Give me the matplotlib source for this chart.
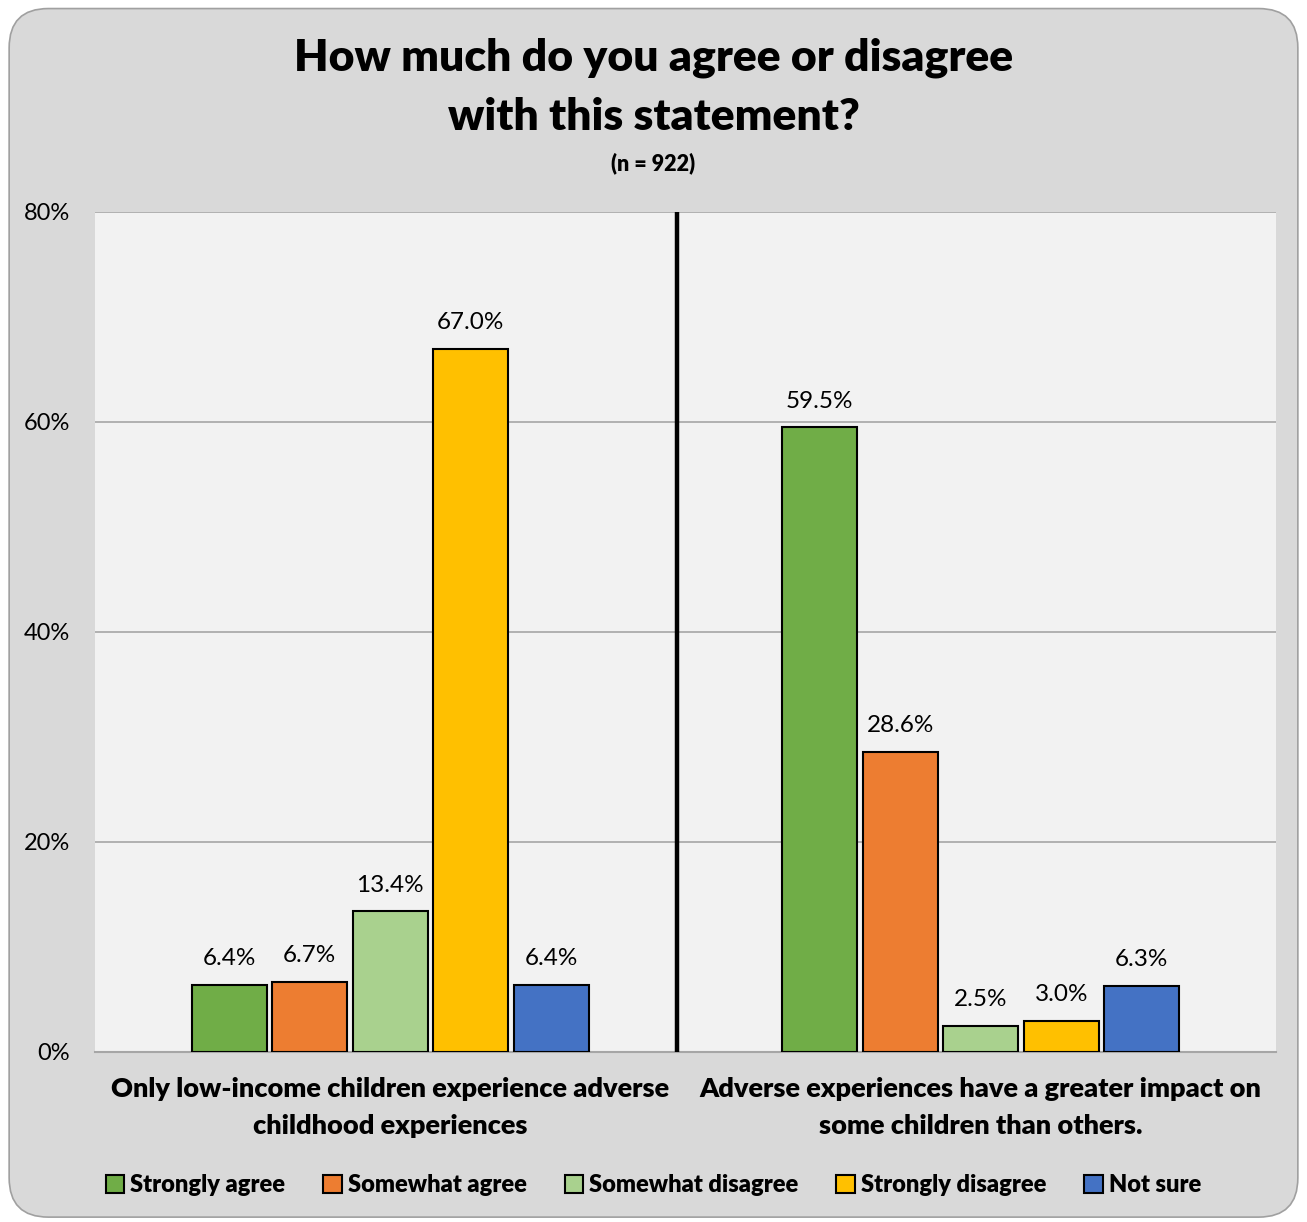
import matplotlib.pyplot as plt
import numpy as np
from matplotlib.patches import FancyBboxPatch, Patch

plt.rcParams['font.family'] = ['Lato', 'DejaVu Sans']

statements = ["Only low-income children experience adverse\nchildhood experiences",
              "Adverse experiences have a greater impact on\nsome children than others."]
responses = ["Strongly agree", "Somewhat agree", "Somewhat disagree",
             "Strongly disagree", "Not sure"]
strongly_agree = [6.4, 59.5]
somewhat_agree = [6.7, 28.6]
somewhat_disagree = [13.4, 2.5]
strongly_disagree = [67.0, 3.0]
not_sure = [6.4, 6.3]
colors = ["#70AD47", "#ED7D31", "#A9D18E", "#FFC000", "#4472C4"]

series = [strongly_agree, somewhat_agree, somewhat_disagree, strongly_disagree, not_sure]

fig = plt.figure(figsize=(13.07, 12.22), dpi=100, facecolor='white')

# rounded grey card behind everything
card = FancyBboxPatch((0.007, 0.004), 0.986, 0.989,
                      boxstyle="round,pad=0,rounding_size=0.03",
                      transform=fig.transFigure, facecolor='#D9D9D9',
                      edgecolor='#A0A0A0', linewidth=1.2, zorder=-10,
                      mutation_aspect=1307 / 1222)
fig.patches.append(card)

ax = fig.add_axes([95 / 1307, 1 - 1052 / 1222, 1181 / 1307, 840 / 1222])
ax.set_facecolor('#F2F2F2')

x = np.arange(len(statements))
width = 0.127
step = 0.1363
for i, (vals, col, name) in enumerate(zip(series, colors, responses)):
    pos = x + (i - 2) * step
    bars = ax.bar(pos, vals, width, color=col, edgecolor='black', linewidth=1.5,
                  label=name, zorder=3)
    for b, v in zip(bars, vals):
        ax.text(b.get_x() + b.get_width() / 2, v + 1.5, f"{v:.1f}%",
                ha='center', va='bottom', fontsize=17.5, color='#000000')

ax.set_xlim(-0.5, 1.5)
ax.set_ylim(0, 80)
ax.set_yticks(range(0, 81, 20))
ax.set_yticklabels([f"{t}%" for t in range(0, 81, 20)], fontsize=17)
ax.yaxis.grid(True, color='#A6A6A6', linewidth=1.2, zorder=0)
ax.set_axisbelow(True)
ax.tick_params(axis='y', length=0, pad=18)
ax.tick_params(axis='x', length=0, pad=18)
ax.set_xticks(x)
ax.set_xticklabels(statements, fontsize=19.5, fontweight='heavy', linespacing=1.65)
for s in ['top', 'right', 'left']:
    ax.spines[s].set_visible(False)
ax.spines['bottom'].set_color('#A6A6A6')
ax.spines['bottom'].set_linewidth(1.5)

# divider between the two statements
ax.axvline(0.4928 * 2 - 0.5, color='black', linewidth=3.2, zorder=4)

fig.text(0.5, 1 - 58 / 1222, "How much do you agree or disagree", ha='center', va='center',
         fontsize=32, fontweight='heavy')
fig.text(0.5, 1 - 117 / 1222, "with this statement?", ha='center', va='center',
         fontsize=32, fontweight='heavy')
fig.text(0.5, 1 - 163 / 1222, "(n = 922)", ha='center', va='center',
         fontsize=15.5, fontweight='heavy')

handles = [Patch(facecolor=c, edgecolor='black', linewidth=1.5, label=r)
           for c, r in zip(colors, responses)]
leg = fig.legend(handles=handles, loc='center', bbox_to_anchor=(0.5, 1 - 1185 / 1222),
                 ncol=5, frameon=False, handlelength=0.8, handleheight=0.8,
                 handletextpad=0.25, columnspacing=1.6,
                 prop={'size': 17, 'weight': 'heavy'})

fig.savefig("out.png", dpi=100, facecolor=fig.get_facecolor())
